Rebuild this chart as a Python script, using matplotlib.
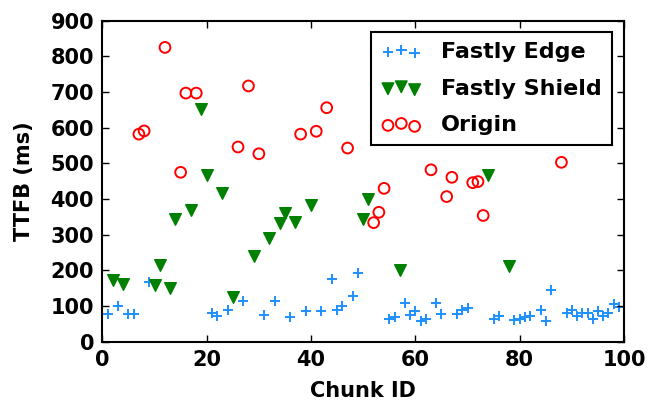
import matplotlib
matplotlib.use("Agg")
import matplotlib.pyplot as plt

# Fastly Edge TTFB per chunk
edge_x = [1, 3, 5, 6, 9, 21, 22, 24, 27, 31, 33, 36, 39, 42, 44, 45, 46, 48, 49,
          55, 56, 58, 59, 60, 61, 62, 64, 65, 68, 69, 70, 75, 76, 79, 80, 81, 82,
          84, 85, 86, 89, 90, 91, 92, 93, 94, 95, 96, 97, 98, 99]
edge_y = [78, 101, 78, 78, 169, 82, 71, 88, 113, 75, 115, 70, 85, 85, 176, 88, 101, 128, 194,
          64, 69, 108, 76, 85, 57, 64, 108, 78, 78, 88, 94, 64, 71, 62, 64, 69, 71,
          88, 59, 146, 80, 90, 71, 80, 80, 64, 85, 73, 80, 106, 97]

# Fastly Shield
shield_x = [2, 4, 10, 11, 13, 14, 17, 19, 20, 23, 25, 29, 32, 34, 35, 37, 40,
            50, 51, 57, 74, 78, 101]
shield_y = [174, 162, 160, 216, 150, 344, 368, 652, 468, 418, 127, 241, 292, 332, 360, 337, 384,
            344, 400, 202, 468, 213, 260]

# Origin
origin_x = [7, 8, 12, 15, 16, 18, 26, 28, 30, 38, 41, 43, 47,
            52, 53, 54, 63, 66, 67, 71, 72, 73, 88]
origin_y = [582, 591, 825, 475, 697, 697, 546, 717, 527, 582, 590, 656, 543,
            334, 363, 430, 482, 407, 461, 446, 449, 354, 503]

plt.rcParams['font.weight'] = 'bold'
plt.rcParams['axes.labelweight'] = 'bold'
plt.rcParams['font.size'] = 15

fig = plt.figure(figsize=(6.48, 4.05), dpi=100)
ax = fig.add_axes([0.158, 0.156, 0.805, 0.793])

ax.scatter(edge_x, edge_y, marker='+', s=60, color='#1e90ff', linewidths=1.4,
           label='Fastly Edge')
ax.scatter(shield_x, shield_y, marker='v', s=70, color='green', edgecolors='green',
           label='Fastly Shield')
ax.scatter(origin_x, origin_y, marker='o', s=60, facecolors='none', edgecolors='red',
           linewidths=1.4, label='Origin')

ax.set_xlim(0, 100)
ax.set_ylim(0, 900)
ax.set_xticks([0, 20, 40, 60, 80, 100])
ax.set_yticks(range(0, 901, 100))
ax.tick_params(direction='in', top=True, right=True, length=5, width=1, pad=6)
for sp in ax.spines.values():
    sp.set_linewidth(1.5)

ax.set_xlabel('Chunk ID', labelpad=8)
ax.set_ylabel('TTFB (ms)', labelpad=12)

leg = ax.legend(loc='upper right', bbox_to_anchor=(0.977, 0.965), scatterpoints=3,
                scatteryoffsets=[0.375, 0.5, 0.3125], fancybox=False, framealpha=1,
                edgecolor='black', borderaxespad=0, handletextpad=0.9,
                labelspacing=0.75, borderpad=0.45, fontsize=16, handlelength=1.8)
leg.get_frame().set_linewidth(1.5)

fig.savefig('out.png', dpi=100)
